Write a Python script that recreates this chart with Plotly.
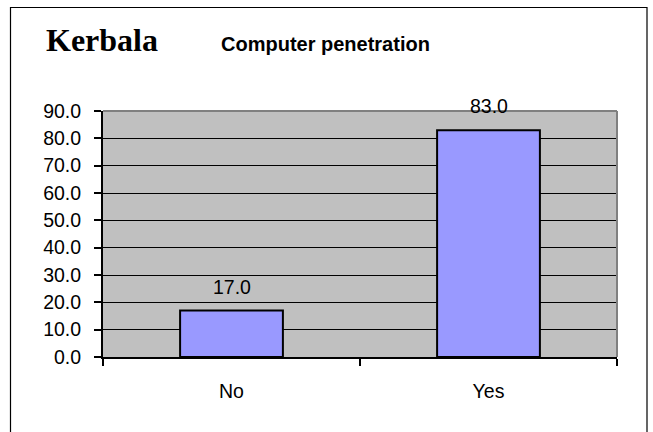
import plotly.graph_objects as go

# Survey answers and their shares (%)
categories = ["No", "Yes"]
shares = [17.0, 83.0]
y_ticks = [0, 10, 20, 30, 40, 50, 60, 70, 80, 90]

W, H = 653, 432
ML, MR, MT, MB = 103, 36, 111, 75
PW, PH = W - ML - MR, H - MT - MB

def px_x(x):
    return (x - ML) / PW

def px_y(y):
    return (H - MB - y) / PH

SANS = "Liberation Sans, Arial, sans-serif"
SERIF = "Liberation Serif, Times New Roman, serif"

fig = go.Figure(
    go.Bar(
        x=categories,
        y=shares,
        width=0.4,
        marker=dict(color="#9999FF", line=dict(color="black", width=2)),
        hoverinfo="skip",
    )
)

# value labels above each bar
for c, v in zip(categories, shares):
    fig.add_annotation(
        x=c, y=v, text=f"{v:.1f}", showarrow=False,
        yanchor="bottom", yshift=11,
        font=dict(family=SANS, size=19.5, color="black"),
    )

# chart titles
fig.add_annotation(
    xref="paper", yref="paper", x=px_x(44), y=px_y(40), text="<b>Kerbala</b>",
    showarrow=False, xanchor="left", yanchor="middle",
    font=dict(family=SERIF, size=32, color="black"),
)
fig.add_annotation(
    xref="paper", yref="paper", x=px_x(219), y=px_y(44), text="<b>Computer penetration</b>",
    showarrow=False, xanchor="left", yanchor="middle",
    font=dict(family=SANS, size=20, color="black"),
)

# outer frame of the chart object
fig.add_shape(
    type="rect", xref="paper", yref="paper",
    x0=px_x(10.5), x1=px_x(647), y0=px_y(445), y1=px_y(7.5),
    line=dict(color="black", width=1.2), layer="above",
)
# grey top and right edges of the plot area
fig.add_shape(type="line", xref="paper", yref="paper", x0=0, x1=1, y0=1, y1=1,
              line=dict(color="#808080", width=2), layer="above")
fig.add_shape(type="line", xref="paper", yref="paper", x0=1, x1=1, y0=0, y1=1,
              line=dict(color="#808080", width=2), layer="above")

fig.update_layout(
    width=W, height=H,
    margin=dict(l=ML, r=MR, t=MT, b=MB, pad=0),
    paper_bgcolor="white",
    plot_bgcolor="#C0C0C0",
    showlegend=False,
    bargap=0.6,
)
fig.update_xaxes(
    type="category", range=[-0.5, 1.5],
    showline=True, linecolor="black", linewidth=2,
    ticks="outside", tickson="boundaries", ticklen=7, tickcolor="black", tickwidth=1.5,
    ticklabelstandoff=16,
    showgrid=False,
    tickfont=dict(family=SANS, size=19.5, color="black"),
)
fig.update_yaxes(
    range=[0, 90], tickvals=y_ticks, tickformat=".1f",
    showline=True, linecolor="black", linewidth=2,
    ticks="outside", ticklen=7, tickcolor="black", tickwidth=1.5,
    ticklabelstandoff=9,
    showgrid=True, gridcolor="black", gridwidth=1,
    zeroline=False,
    tickfont=dict(family=SANS, size=19.5, color="black"),
)

fig.write_html("out.html")
